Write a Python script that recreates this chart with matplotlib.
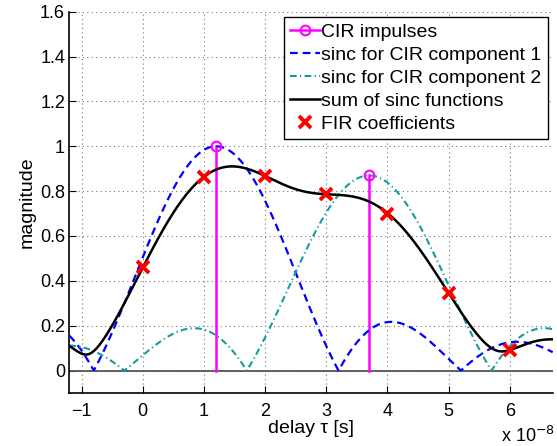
import numpy as np
import matplotlib
matplotlib.use("Agg")
import matplotlib.pyplot as plt
from matplotlib.legend_handler import HandlerLine2D

plt.rcParams["font.family"] = ["Liberation Sans", "DejaVu Sans"]

# * CIR components (delay in units of 1e-8 s)
cir_delays = [1.2, 3.7]
cir_amps = [1.0, 0.87]
cir_phases = [0.0, np.pi / 4]
sinc_width = 2.0  # sinc main lobe half width, units of 1e-8 s

# * FIR coefficients (sampled sum of sincs)
fir_delays = [0, 1, 2, 3, 4, 5, 6]
fir_values = [0.46, 0.864, 0.869, 0.786, 0.70, 0.345, 0.092]

labels = ["CIR impulses", "sinc for CIR component 1",
          "sinc for CIR component 2", "sum of sinc functions",
          "FIR coefficients"]
x_ticks = [-1, 0, 1, 2, 3, 4, 5, 6]
y_ticks = [0, 0.2, 0.4, 0.6, 0.8, 1, 1.2, 1.4, 1.6]
y_ticklabels = ["0", "0.2", "0.4", "0.6", "0.8", "1", "1.2", "1.4", "1.6"]

t = np.linspace(-1.2, 6.7, 800)
comps = [a * np.exp(1j * p) * np.sinc((t - d) / sinc_width)
         for d, a, p in zip(cir_delays, cir_amps, cir_phases)]
total = np.abs(comps[0] + comps[1])


class EndMarkerHandler(HandlerLine2D):
    # * marker at right end of legend line, like matlab stem
    def get_xdata(self, legend, xdescent, ydescent, width, height, fontsize):
        xdata = np.linspace(-xdescent, -xdescent + width, 2)
        return xdata, [-xdescent + width - 0.2 * fontsize]


fig = plt.figure(figsize=(5.57, 4.46), dpi=100)
ax = fig.add_axes([0.1244, 0.1188, 0.8679, 0.8550])

ax.axhline(0, color="#555555", lw=1.3, zorder=2)
for d, a in zip(cir_delays, cir_amps):
    ax.plot([d, d], [0, a], color="#ff00ff", lw=1.8, zorder=3)
ax.plot(cir_delays, cir_amps, "o", color="#ff00ff", mfc="none",
        ms=7, mew=1.5, zorder=4)

l1, = ax.plot(t, np.abs(comps[0]), color="#0000ff", lw=1.6,
              ls=(0, (3.5, 2.2)), zorder=3)
l2, = ax.plot(t, np.abs(comps[1]), color="#149c9c", lw=1.5,
              ls=(0, (3.2, 1.6, 0.6, 1.6)), zorder=3)
l3, = ax.plot(t, total, color="black", lw=1.8, zorder=3)
l4, = ax.plot(fir_delays, fir_values, "x", color="#ff0000", ms=8, mew=2.8,
              zorder=5)

stem_handle = plt.Line2D([], [], color="#ff00ff", lw=1.8, marker="o",
                         mfc="none", ms=7, mew=1.5)
leg = ax.legend([stem_handle, l1, l2, l3, l4], labels,
                loc="upper right", bbox_to_anchor=(0.9897, 0.9869),
                borderaxespad=0, fontsize=14, fancybox=False, framealpha=1,
                handlelength=1.55, handletextpad=0.05, borderpad=0.33,
                labelspacing=0.28,
                handler_map={stem_handle: EndMarkerHandler(numpoints=1)})
leg.get_frame().set_edgecolor("black")
leg.get_frame().set_linewidth(1.0)

ax.set_xlim(-1.2, 6.7)
ax.set_ylim(-0.1, 1.6)
ax.set_xticks(x_ticks)
ax.set_yticks(y_ticks)
ax.set_yticklabels(y_ticklabels)
ax.tick_params(direction="in", length=5, labelsize=13, width=0.8)
ax.tick_params(axis="x", pad=7)
ax.tick_params(axis="y", pad=3)
ax.grid(True, ls=(0, (1, 3)), color="#777777", lw=0.8)
ax.spines["top"].set_visible(False)
ax.spines["right"].set_visible(False)
ax.spines["left"].set_linewidth(1.2)
ax.spines["bottom"].set_linewidth(1.2)

ax.set_xlabel("delay τ [s]", fontsize=14, labelpad=0)
ax.set_ylabel("magnitude", fontsize=14, labelpad=3)
fig.text(0.900, 0.010, r"x 10$^{-8}$", fontsize=13)

fig.savefig("out.png", dpi=100)
